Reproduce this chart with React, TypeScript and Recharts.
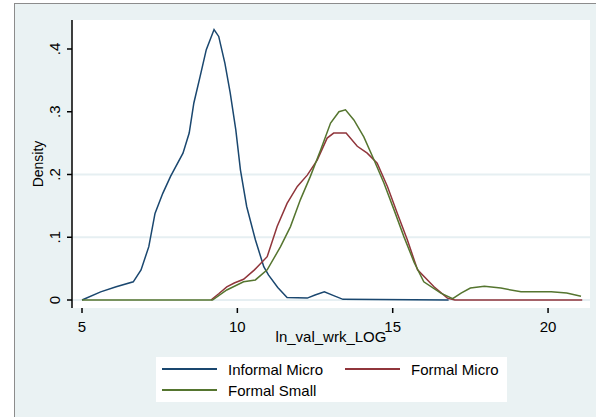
import { LineChart, Line, XAxis, YAxis, ReferenceLine, Label } from 'recharts';

const informalMicro = [
  { x: 5.0, y: 0 }, { x: 5.6, y: 0.013 }, { x: 6.1, y: 0.021 }, { x: 6.65, y: 0.029 },
  { x: 6.9, y: 0.048 }, { x: 7.15, y: 0.085 }, { x: 7.35, y: 0.138 }, { x: 7.6, y: 0.17 },
  { x: 7.85, y: 0.197 }, { x: 8.25, y: 0.234 }, { x: 8.45, y: 0.266 }, { x: 8.6, y: 0.314 },
  { x: 8.8, y: 0.356 }, { x: 9.0, y: 0.399 }, { x: 9.25, y: 0.431 }, { x: 9.4, y: 0.42 },
  { x: 9.6, y: 0.377 }, { x: 9.77, y: 0.33 }, { x: 9.95, y: 0.271 }, { x: 10.1, y: 0.207 },
  { x: 10.3, y: 0.149 }, { x: 10.58, y: 0.096 }, { x: 10.85, y: 0.053 }, { x: 11.0, y: 0.04 },
  { x: 11.3, y: 0.02 }, { x: 11.6, y: 0.004 }, { x: 12.25, y: 0.003 }, { x: 12.5, y: 0.008 },
  { x: 12.8, y: 0.013 }, { x: 13.1, y: 0.007 }, { x: 13.4, y: 0.001 }, { x: 16.8, y: 0 },
];

const formalMicro = [
  { x: 9.15, y: 0 }, { x: 9.4, y: 0.01 }, { x: 9.66, y: 0.021 }, { x: 9.9, y: 0.027 },
  { x: 10.2, y: 0.033 }, { x: 10.55, y: 0.048 }, { x: 10.96, y: 0.069 }, { x: 11.28, y: 0.117 },
  { x: 11.6, y: 0.154 }, { x: 11.93, y: 0.181 }, { x: 12.25, y: 0.199 }, { x: 12.57, y: 0.223 },
  { x: 12.89, y: 0.258 }, { x: 13.1, y: 0.266 }, { x: 13.5, y: 0.266 }, { x: 13.86, y: 0.245 },
  { x: 14.18, y: 0.234 }, { x: 14.5, y: 0.218 }, { x: 14.83, y: 0.181 }, { x: 15.15, y: 0.138 },
  { x: 15.47, y: 0.096 }, { x: 15.8, y: 0.048 }, { x: 16.33, y: 0.021 }, { x: 16.76, y: 0.003 },
  { x: 17.0, y: 0 }, { x: 21.1, y: 0 },
];

const formalSmall = [
  { x: 5.0, y: 0 }, { x: 9.2, y: 0 }, { x: 9.66, y: 0.016 }, { x: 10.2, y: 0.029 },
  { x: 10.58, y: 0.032 }, { x: 10.96, y: 0.048 }, { x: 11.39, y: 0.085 }, { x: 11.71, y: 0.117 },
  { x: 12.03, y: 0.16 }, { x: 12.35, y: 0.197 }, { x: 12.68, y: 0.239 }, { x: 13.0, y: 0.282 },
  { x: 13.27, y: 0.3 }, { x: 13.48, y: 0.303 }, { x: 13.75, y: 0.287 }, { x: 14.07, y: 0.26 },
  { x: 14.4, y: 0.223 }, { x: 14.72, y: 0.186 }, { x: 15.04, y: 0.144 }, { x: 15.36, y: 0.101 },
  { x: 15.69, y: 0.06 }, { x: 16.0, y: 0.029 }, { x: 16.55, y: 0.011 }, { x: 16.93, y: 0.002 },
  { x: 17.2, y: 0.011 }, { x: 17.5, y: 0.019 }, { x: 17.95, y: 0.022 }, { x: 18.48, y: 0.019 },
  { x: 19.13, y: 0.013 }, { x: 20.1, y: 0.013 }, { x: 20.6, y: 0.011 }, { x: 21.06, y: 0.006 },
];

const xTicks = [5, 10, 15, 20];
const yTicks = [0, 0.1, 0.2, 0.3, 0.4];
const yTickLabels = ['0', '.1', '.2', '.3', '.4'];
const gridValues = [0, 0.1, 0.2];

const series = [
  { name: 'Informal Micro', data: informalMicro, color: '#1a476f' },
  { name: 'Formal Micro', data: formalMicro, color: '#90353b' },
  { name: 'Formal Small', data: formalSmall, color: '#55752f' },
];

const font = "'Liberation Sans', Arial, sans-serif";

const YTick = (props: any) => {
  const { x, y, payload } = props;
  const idx = yTicks.indexOf(payload.value);
  const bx = x - 5;
  return (
    <text x={bx} y={y} transform={`rotate(-90 ${bx} ${y})`} textAnchor="middle"
      fontSize={15} fontFamily={font} fill="#000">
      {idx >= 0 ? yTickLabels[idx] : payload.value}
    </text>
  );
};

function LegendBox() {
  const item = (s: typeof series[number], left: number, top: number) => (
    <div key={s.name} style={{ position: 'absolute', left, top, height: 20, display: 'flex', alignItems: 'center' }}>
      <div style={{ width: 55, height: 2, background: s.color }} />
      <span style={{ marginLeft: 11, fontSize: 15, fontFamily: font, color: '#000' }}>{s.name}</span>
    </div>
  );
  return (
    <div style={{ position: 'absolute', left: 156, top: 357, width: 351, height: 45, background: '#fff' }}>
      {item(series[0], 6, 2)}
      {item(series[1], 189, 2)}
      {item(series[2], 6, 23)}
    </div>
  );
}

export default function App() {
  return (
    <div style={{ position: 'absolute', left: 0, top: 0, width: 596, height: 417, overflow: 'hidden', background: '#fff' }}>
      <div style={{ position: 'absolute', left: 14, top: 3, width: 600, height: 430, background: '#eaf2f3', border: '1px solid #8c8c8c' }} />
      <div style={{ position: 'absolute', left: 72, top: 20, width: 518, height: 288, background: '#fff' }} />
      <div style={{ position: 'absolute', left: 0, top: 0 }}>
        <LineChart width={596} height={417} margin={{ top: 20, right: 6, left: 28, bottom: 73 }}>
          {gridValues.map((v) => (
            <ReferenceLine key={v} y={v} stroke="#e6eff2" strokeWidth={2} />
          ))}
          <XAxis
            dataKey="x"
            type="number"
            domain={[4.678, 21.35]}
            ticks={xTicks}
            allowDataOverflow
            axisLine={false}
            tickLine={{ stroke: '#000', strokeWidth: 1.5 }}
            tickSize={5}
            tickMargin={8}
            height={36}
            tick={{ fill: '#000', fontSize: 15, fontFamily: font }}
          >
            <Label value="ln_val_wrk_LOG" position="insideBottom" offset={2}
              style={{ fontSize: 15, fontFamily: font, fill: '#000' }} />
          </XAxis>
          <YAxis
            type="number"
            domain={[-0.01275, 0.4462]}
            ticks={yTicks}
            allowDataOverflow
            width={44}
            axisLine={{ stroke: '#000', strokeWidth: 1.5 }}
            tickLine={{ stroke: '#000', strokeWidth: 1.5 }}
            tickSize={5}
            tickMargin={2}
            tick={<YTick />}
          >
            <Label value="Density" angle={-90} position="insideLeft" offset={10}
              style={{ fontSize: 14, fontFamily: font, fill: '#000', textAnchor: 'middle' }} />
          </YAxis>
          {series.map((s) => (
            <Line key={s.name} data={s.data} dataKey="y" type="linear" stroke={s.color}
              strokeWidth={1.5} dot={false} isAnimationActive={false} />
          ))}
        </LineChart>
      </div>
      <LegendBox />
    </div>
  );
}
